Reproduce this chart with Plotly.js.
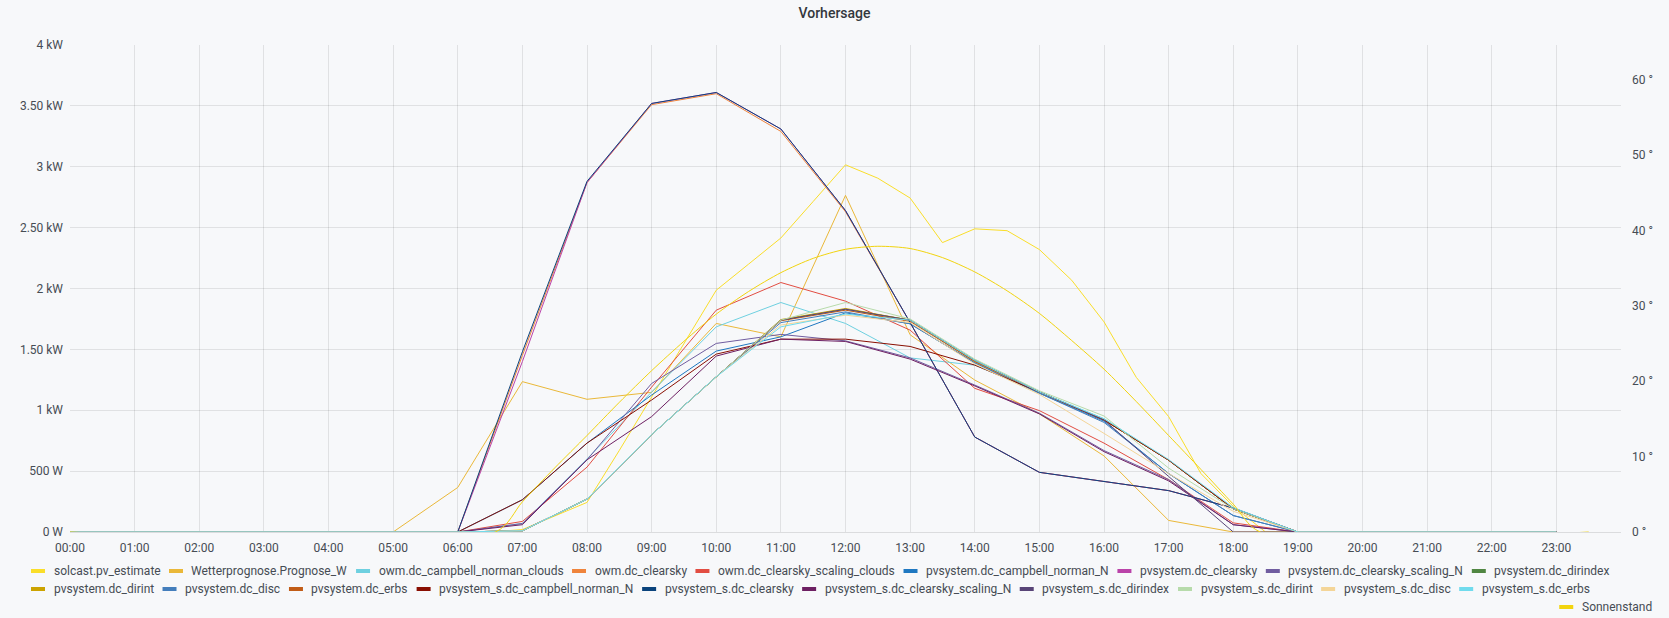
<!DOCTYPE html>
<html><head><meta charset="utf-8">
<script src="https://cdn.plot.ly/plotly-3.0.1.min.js"></script>
<style>html,body{margin:0;padding:0;background:#f7f8fa;}#chart{width:1669px;height:618px;}</style>
</head><body><div id="chart"></div>
<script>
// ---------- data ----------
const day = '2024-05-10 ';
const hours = ['00:00','01:00','02:00','03:00','04:00','05:00','06:00','07:00','08:00','09:00','10:00','11:00',
  '12:00','13:00','14:00','15:00','16:00','17:00','18:00','19:00','20:00','21:00','22:00','23:00'];
const halfHours = ['00:00','00:30','01:00','01:30','02:00','02:30','03:00','03:30','04:00','04:30','05:00','05:30',
  '06:00','06:30','07:00','07:30','08:00','08:30','09:00','09:30','10:00','10:30','11:00','11:30',
  '12:00','12:30','13:00','13:30','14:00','14:30','15:00','15:30','16:00','16:30','17:00','17:30',
  '18:00','18:30','19:00','19:30','20:00','20:30','21:00','21:30','22:00','22:30','23:00'];
const sunTimes = ['00:00','06:35','07:00','07:30','08:00','08:30','09:00','09:30','10:00','10:30','11:00','11:30',
  '12:00','12:30','13:00','13:30','14:00','14:30','15:00','15:30','16:00','16:30','17:00','17:30','18:00','18:25','23:30'];

// watts
const solcastW = [0,0,0,0,0,0,0,0,0,0,0,0,0,0,
  20,130,243,670,1110,1550,1986,2200,2415,2715,3016,2906,2743,2377,2490,2475,2320,2068,1726,1270,948,480,210,0,
  0,0,0,0,0,0,0,0,0];
const wetterW      = [0,0,0,0,0,0,366,1235,1090,1147,1713,1603,2765,1620,1248,970,625,95,0,0,0,0,0,0];
const owmCampbellW = [0,0,0,0,0,0,0,70,600,1150,1685,1885,1713,1430,1370,1150,930,590,190,0,0,0,0,0];
const owmClearskyW = [0,0,0,0,0,0,0,1450,2870,3510,3600,3290,2630,1720,780,490,415,340,197,0,0,0,0,0];
const owmScalingW  = [0,0,0,0,0,0,0,87,533,1190,1822,2049,1896,1658,1180,997,730,430,75,0,0,0,0,0];
const pvCampbellW  = [0,0,0,0,0,0,0,265,730,1125,1486,1603,1800,1710,1390,1140,910,480,135,0,0,0,0,0];
const pvClearskyW  = [0,0,0,0,0,0,0,1400,2870,3520,3610,3310,2640,1720,780,490,415,340,197,0,0,0,0,0];
const pvScalingW   = [0,0,0,0,0,0,0,70,593,1220,1549,1623,1570,1430,1207,976,669,430,60,0,0,0,0,0];
const pvDirindexW  = [0,0,0,0,0,0,0,10,270,800,1275,1740,1830,1740,1410,1150,920,590,190,0,0,0,0,0];
const pvDirintW    = [0,0,0,0,0,0,0,10,270,800,1275,1745,1836,1740,1400,1150,920,590,190,0,0,0,0,0];
const pvDiscW      = [0,0,0,0,0,0,0,10,270,800,1275,1720,1808,1710,1390,1140,900,480,135,0,0,0,0,0];
const pvErbsW      = [0,0,0,0,0,0,0,10,270,800,1275,1735,1822,1730,1400,1150,920,590,190,0,0,0,0,0];
const sCampbellW   = [0,0,0,0,0,0,0,265,730,1084,1461,1584,1584,1524,1371,1150,920,590,190,0,0,0,0,0];
const sClearskyW   = [0,0,0,0,0,0,0,1480,2880,3520,3610,3310,2640,1720,780,490,415,340,197,0,0,0,0,0];
const sScalingW    = [0,0,0,0,0,0,0,60,593,948,1445,1584,1565,1420,1200,970,660,420,60,0,0,0,0,0];
const sDirindexW   = [0,0,0,0,0,0,0,10,270,800,1275,1740,1830,1740,1410,1150,920,456,0,0,0,0,0,0];
const sDirintW     = [0,0,0,0,0,0,0,10,270,800,1275,1740,1885,1750,1420,1160,953,525,190,0,0,0,0,0];
const sDiscW       = [0,0,0,0,0,0,0,10,270,800,1275,1700,1781,1720,1380,1130,810,480,170,0,0,0,0,0];
const sErbsW       = [0,0,0,0,0,0,0,10,270,800,1275,1685,1790,1740,1410,1150,930,595,200,0,0,0,0,0];
const sunDeg = [0,0,4.0,8.5,12.8,17.2,21.4,25.3,28.9,31.9,34.4,36.3,37.5,37.9,37.6,36.4,34.5,32.0,29.0,25.4,21.6,17.3,12.8,8.3,3.7,0,0];

const names = ['solcast.pv_estimate','Wetterprognose.Prognose_W','owm.dc_campbell_norman_clouds','owm.dc_clearsky',
  'owm.dc_clearsky_scaling_clouds','pvsystem.dc_campbell_norman_N','pvsystem.dc_clearsky','pvsystem.dc_clearsky_scaling_N',
  'pvsystem.dc_dirindex','pvsystem.dc_dirint','pvsystem.dc_disc','pvsystem.dc_erbs','pvsystem_s.dc_campbell_norman_N',
  'pvsystem_s.dc_clearsky','pvsystem_s.dc_clearsky_scaling_N','pvsystem_s.dc_dirindex','pvsystem_s.dc_dirint',
  'pvsystem_s.dc_disc','pvsystem_s.dc_erbs'];
const seriesValues = [solcastW,wetterW,owmCampbellW,owmClearskyW,owmScalingW,pvCampbellW,pvClearskyW,pvScalingW,
  pvDirindexW,pvDirintW,pvDiscW,pvErbsW,sCampbellW,sClearskyW,sScalingW,sDirindexW,sDirintW,sDiscW,sErbsW];
const sunName = 'Sonnenstand';

const yTickVals = [0,500,1000,1500,2000,2500,3000,3500,4000];
const yTickText = ['0 W','500 W','1 kW','1.50 kW','2 kW','2.50 kW','3 kW','3.50 kW','4 kW'];
const y2TickVals = [0,10,20,30,40,50,60];
const y2TickText = ['0 °','10 °','20 °','30 °','40 °','50 °','60 °'];

// ---------- styles ----------
const colors = ['#FADE2A','#EAB839','#6ED0E0','#EF843C','#E24D42','#1F78C1','#BA43A9','#705DA0','#508642',
  '#CCA300','#447EBC','#C15C17','#890F02','#0A437C','#6D1F62','#584477','#B7DBAB','#F4D598','#70DBED'];
const sunColor = '#F2D40F';
const textColor = '#464c54';
const FONT = 'Roboto, Helvetica, Arial, sans-serif';

const W = 1669, H = 618, ML = 70, MR = 48, MT = 45, MB = 86;
const PW = W - ML - MR, PH = H - MT - MB;

const traces = [];
seriesValues.forEach((vals, i) => {
  const xs = (vals.length === halfHours.length ? halfHours : hours).map(t => day + t);
  traces.push({x: xs, y: vals, type: 'scatter', mode: 'lines', name: names[i],
    line: {color: colors[i], width: 1}, yaxis: 'y', showlegend: false, hoverinfo: 'skip'});
});
traces.push({x: sunTimes.map(t => day + t), y: sunDeg, type: 'scatter', mode: 'lines', name: sunName,
  line: {color: sunColor, width: 1, shape: 'spline', smoothing: 0.8}, yaxis: 'y2', showlegend: false, hoverinfo: 'skip'});

// ---------- manual legend (Grafana style) ----------
const ctx = document.createElement('canvas').getContext('2d');
const LFS = 12;
ctx.font = LFS + 'px Roboto';
const px2x = px => (px - ML) / PW;
const px2y = py => (H - MB - py) / PH;
const shapes = [], annotations = [];
const SW_TXT = 21.5, ITEM_GAP = 9.8;
function addItem(xStart, yc, color, label) {
  shapes.push({type: 'rect', xref: 'paper', yref: 'paper', x0: px2x(xStart), x1: px2x(xStart + 14),
    y0: px2y(yc + 2), y1: px2y(yc - 2), fillcolor: color, line: {width: 0}});
  annotations.push({xref: 'paper', yref: 'paper', x: px2x(xStart + SW_TXT), y: px2y(yc), xanchor: 'left', yanchor: 'middle',
    text: label, showarrow: false, borderpad: 0, font: {family: FONT, size: LFS, color: textColor}});
}
const rowY = [571, 589];
let row = 0, cx = 31;
names.forEach((n, i) => {
  const w = SW_TXT + ctx.measureText(n).width;
  if (cx + w > 1640) { row++; cx = 31; }
  addItem(cx, rowY[row] !== undefined ? rowY[row] : 589 + 18 * (row - 1), colors[i], n);
  cx += w + ITEM_GAP;
});
{
  const tw = ctx.measureText(sunName).width;
  addItem(1651 - tw - SW_TXT, 607, sunColor, sunName);
}

const layout = {
  width: W, height: H,
  margin: {l: ML, r: MR, t: MT, b: MB, pad: 0},
  paper_bgcolor: '#f7f8fa', plot_bgcolor: '#f7f8fa',
  font: {family: FONT, size: 12, color: textColor},
  title: {text: 'Vorhersage', x: 0.5, xref: 'container', y: 1 - 13 / H, yref: 'container', yanchor: 'middle',
    font: {family: FONT, size: 14, color: '#33373d', weight: 500}},
  showlegend: false,
  xaxis: {type: 'date', range: [day + '00:00', '2024-05-11 00:00'], tickvals: hours.map(t => day + t), ticktext: hours,
    showgrid: true, gridcolor: 'rgba(0,0,0,0.09)', gridwidth: 1, zeroline: false, showline: false, ticks: '',
    tickfont: {family: FONT, size: 12, color: textColor}, ticklabelstandoff: 7, fixedrange: true},
  yaxis: {range: [0, 4000], tickvals: yTickVals, ticktext: yTickText, showgrid: true, gridcolor: 'rgba(0,0,0,0.09)',
    zeroline: true, zerolinecolor: 'rgba(0,0,0,0.11)', zerolinewidth: 1, showline: false, ticks: '',
    tickfont: {family: FONT, size: 12, color: textColor}, ticklabelstandoff: 6, fixedrange: true},
  yaxis2: {range: [0, 64.6], overlaying: 'y', side: 'right', tickvals: y2TickVals, ticktext: y2TickText,
    showgrid: false, zeroline: false, showline: false, ticks: '',
    tickfont: {family: FONT, size: 12, color: textColor}, ticklabelstandoff: 10, fixedrange: true},
  shapes: shapes, annotations: annotations
};
Plotly.newPlot('chart', traces, layout, {displayModeBar: false, staticPlot: true});
</script>
</body></html>
